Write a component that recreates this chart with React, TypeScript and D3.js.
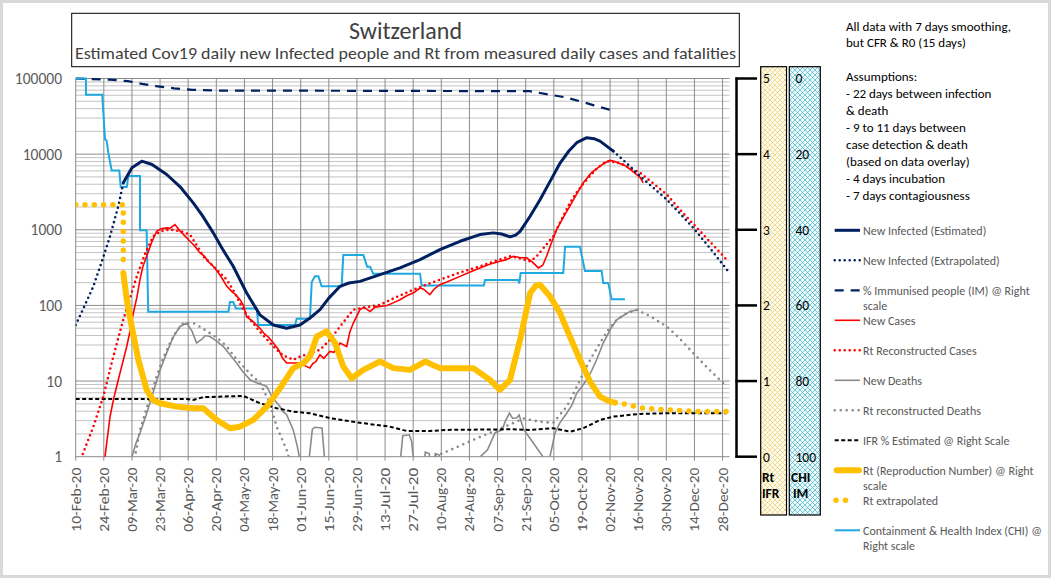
import React from 'react';
import * as d3 from 'd3';

// ---------- DATA (day offset from 10-Feb-2020, value) ----------
const START = new Date(2020, 1, 10);
const dayToDate = (d: number) => new Date(START.getTime() + d * 86400000);

const xTickDays = [0, 14, 28, 42, 56, 70, 84, 98, 112, 126, 140, 154, 168, 182, 196, 210, 224, 238, 252, 266, 280, 294, 308, 322];
const xTickLabels = ['10-Feb-20', '24-Feb-20', '09-Mar-20', '23-Mar-20', '06-Apr-20', '20-Apr-20', '04-May-20', '18-May-20', '01-Jun-20', '15-Jun-20', '29-Jun-20', '13-Jul-20', '27-Jul-20', '10-Aug-20', '24-Aug-20', '07-Sep-20', '21-Sep-20', '05-Oct-20', '19-Oct-20', '02-Nov-20', '16-Nov-20', '30-Nov-20', '14-Dec-20', '28-Dec-20'];
const leftTicks = [1, 10, 100, 1000, 10000, 100000];
const rtTicks = [0, 1, 2, 3, 4, 5];
const chiTicks = [0, 20, 40, 60, 80, 100];

const newInfectedEst: [number, number][] = [
  [23.7, 4180], [28, 6600], [32.9, 8080], [38, 7300], [45.3, 5380], [52, 3700], [58.5, 2270], [63, 1550], [68.5, 910],
  [73, 560], [78.4, 329], [85.1, 146], [91.7, 75], [98.4, 55], [105, 50], [111.6, 55], [116.6, 68], [121.6, 88],
  [126, 125], [131.6, 179], [136, 198], [141.5, 208], [151.5, 255], [161.4, 313], [171.4, 403], [181.3, 547],
  [191.3, 705], [201.2, 864], [207.9, 910], [212, 880], [216.2, 805], [219, 850], [221.2, 955], [226.2, 1510],
  [231.2, 2510], [236, 4300], [241.2, 7690], [245.5, 11000], [249.4, 14160], [254.4, 16490], [258, 16000],
  [261, 14860], [267.6, 10960],
];
const newInfectedExtrap: [number, number][] = [
  [0, 55], [4.5, 100], [8.8, 179], [13, 380], [17.1, 820], [21.2, 2050], [23.7, 4180],
  [NaN, NaN],
  [267.6, 10960], [274, 7700], [280, 5380], [287, 3700], [294.2, 2510], [301, 1620], [307.4, 1060], [316, 560], [324.8, 282],
];
const immunisedPct: [number, number][] = [
  [0, 0], [17, 0.3], [26, 0.7], [33, 1.4], [40, 2.0], [49, 2.6], [58, 3.0], [71, 3.2], [92, 3.2], [180, 3.3],
  [226, 3.35], [235, 4.2], [243, 4.9], [251, 6.0], [258, 7.1], [267, 8.45],
];
const newCases: [number, number][] = [
  [13.8, 0.6], [14.6, 1], [17.1, 3.4], [19, 6], [21.2, 10.4], [23, 16], [25.4, 28.6], [27, 45], [28.7, 79], [30.5, 130],
  [32, 219], [33.5, 330], [35.3, 446], [38, 700], [40.3, 955], [42.5, 1030], [45.3, 1060], [47, 1050], [49.4, 1170],
  [52, 960], [55.3, 781], [57, 700], [59, 620], [61.9, 494], [64, 450], [66, 380], [68.5, 329], [71, 270], [73, 225],
  [75.2, 179], [78, 150], [79.5, 140], [81.8, 119], [83.5, 100], [85.1, 71], [88, 62], [91.7, 50], [94, 42],
  [96, 38], [98.4, 31.8], [101, 26], [103, 20], [105, 17.3], [108.3, 17.3], [111.6, 17.3], [114, 16], [116.6, 14.9],
  [118, 17], [119.5, 18], [121.6, 22.2], [123.5, 20], [126.6, 24.6], [128.5, 24], [131.6, 31.8], [134.9, 28.6],
  [136.5, 45], [138.2, 58.5], [141.5, 88], [143.5, 95], [146.5, 83], [149, 95], [151.5, 97], [155, 100], [158, 108],
  [161.4, 119], [165, 135], [168, 146], [171.4, 170], [173, 165], [176.3, 139], [178.5, 165], [181.3, 188], [185, 205],
  [191.3, 242], [196, 275], [201.2, 313], [206, 350], [211.2, 383], [214, 400], [217.8, 446], [221, 430], [224.5, 425],
  [227.5, 370], [230.3, 313], [232.5, 340], [234.4, 446], [236.5, 640], [239.4, 1007], [243, 1500], [246, 2050],
  [249.5, 3000], [252.7, 4180], [256.5, 5600], [261, 6930], [264, 7800], [266, 8260], [268.5, 8000], [270.5, 7500],
  [272.6, 7310], [275, 6600], [277, 6000], [279.2, 5380], [281, 4900], [282.5, 4180],
];
const casesRecon: [number, number][] = [
  [1.5, 0.7], [3, 1], [8.8, 2.5], [13.7, 6.2], [18.7, 21], [23.7, 65], [30.4, 242], [34.5, 480], [38.6, 820],
  [42.5, 960], [46.9, 1007], [52, 960], [56.9, 864], [60, 640], [63.5, 446], [69, 320], [75.2, 219], [79, 150],
  [83.4, 88], [87.5, 62], [91.7, 45], [98.4, 28.6], [103, 22], [108.3, 19.1], [111.6, 21], [121.6, 25.9], [126.5, 35],
  [131.6, 52.7], [138.2, 88], [145, 95], [151.5, 102], [160, 130], [168, 161], [175, 190], [181.3, 219], [191, 270],
  [201.2, 329], [208, 380], [216.2, 446], [221, 420], [226.2, 383], [229.5, 446], [233.5, 600], [237.7, 820],
  [242, 1400], [246, 2270], [250, 3300], [254.4, 4620], [259.5, 6500], [264.3, 8080], [270, 7700], [275, 6800],
  [280.9, 5670], [287, 4200], [294.2, 2930], [302, 1700], [310.8, 955], [317.5, 620], [324.8, 383],
];
const newDeaths: [number, number][] = [
  [26.5, 0.7], [28, 1], [30, 1.5], [32, 2.06], [35, 3.5], [38.5, 7], [42, 14], [45.3, 23.6], [48.5, 38], [51.9, 52.7],
  [55.3, 58.5], [58, 45], [60.2, 31.8], [63, 36], [64.5, 40], [66.8, 38.8], [70, 34], [73.5, 28.6], [77, 22], [80.1, 17.3],
  [83, 13.5], [86.8, 10.4], [90, 9.5], [92.5, 9], [95.1, 8.5], [98, 6], [101.7, 4.6], [103, 4], [105, 3.6], [108.3, 2.26],
  [110.5, 1.3], [111.6, 0.9], [112.5, 0.5], [115, 0.5], [116.3, 1], [117.8, 2.3], [119, 2.45], [122.6, 2.4], [123.8, 1],
  [124.5, 0.5], [161, 0.5], [161.8, 1], [162.8, 1.9], [166, 1.95], [167.2, 1.6], [168, 1], [168.7, 0.5], [173, 0.5],
  [174, 1.15], [176, 1.1], [176.8, 0.5], [178, 0.5], [179, 1.1], [181, 1.05], [182, 0.5], [200, 0.5], [201.4, 1],
  [205, 1.23], [208.7, 2.06], [212.2, 2.26], [214, 3], [215.9, 3.76], [217.5, 3.2], [219.5, 3.26], [220.7, 3.57],
  [223.1, 2.26], [227.8, 1.52], [232.6, 1], [233.5, 0.5], [235, 0.5], [236.1, 1], [238.6, 2.06], [241, 2.8], [244.4, 3.76],
  [247, 4.8], [249.4, 6.9], [252, 8.5], [254.4, 10.4], [257, 14], [259.3, 19.1], [262.6, 31.8], [266, 47.6],
  [269.3, 64.7], [272, 72], [275.9, 83.3], [280, 87.7],
];
const deathsRecon: [number, number][] = [
  [28.5, 0.8], [29.5, 1], [32, 2.26], [36, 5], [40.3, 11.5], [43.5, 20], [46.9, 31.8], [50, 45], [53.6, 58.5], [58.5, 58.5],
  [62, 52], [66.8, 43], [71, 36], [75.2, 28.6], [79, 21], [83.4, 15.6], [87.5, 12], [91.7, 9.4], [96.7, 5.1], [100, 2.5],
  [105, 1.23], [107, 0.8],
  [NaN, NaN],
  [177, 0.9], [178.7, 1], [190, 1.35], [201.2, 1.82], [212, 2.4], [223.1, 3.2], [231.1, 2.9], [237.7, 2.8], [244.4, 4.6],
  [248, 7], [252.7, 12.7], [256.5, 20], [261, 31.8], [265, 47], [269.3, 64.7], [274, 78], [279.2, 87.7], [286, 72],
  [294.2, 52.7], [300, 38], [307.4, 23.4], [315, 14.5], [324, 8.5],
];
const ifrPct: [number, number][] = [
  [0, 0.764], [55.3, 0.764], [58.5, 0.751], [63.5, 0.787], [83.4, 0.804], [91.7, 0.707], [100, 0.641], [108.3, 0.596],
  [116.6, 0.575], [126.6, 0.509], [143.2, 0.442], [156.4, 0.397], [164.8, 0.34], [176.4, 0.34], [184.7, 0.354],
  [217.8, 0.363], [226.1, 0.354], [237.7, 0.376], [246, 0.331], [252.7, 0.376], [261, 0.486], [267.6, 0.53],
  [280.9, 0.566], [294.2, 0.575], [324, 0.575],
];
const rt: [number, number][] = [
  [23.7, 2.43], [25.4, 2.08], [27.9, 1.72], [31.2, 1.28], [35.3, 0.884], [38.5, 0.75], [42, 0.707], [50.3, 0.662],
  [58.5, 0.641], [63.5, 0.641], [70.2, 0.486], [76.8, 0.376], [81.8, 0.397], [88.4, 0.486], [95.1, 0.662],
  [101.7, 0.906], [108.3, 1.171], [113.3, 1.237], [116.6, 1.325], [120, 1.589], [124.9, 1.656], [129.1, 1.502],
  [133.2, 1.192], [137.4, 1.038], [143.2, 1.148], [151.5, 1.258], [158.1, 1.171], [166.4, 1.148], [173.9, 1.258],
  [181.3, 1.171], [197.9, 1.171], [206.2, 1.016], [211.2, 0.883], [216.2, 1.016], [221.2, 1.546], [226.2, 2.164],
  [229, 2.26], [231.1, 2.274], [236.1, 2.119], [241.1, 1.899], [246, 1.589], [251, 1.281], [256, 0.993], [261, 0.795],
  [266, 0.728], [268.5, 0.715],
];
const rtExtrap: [number, number][] = [
  [0, 3.33], [23.7, 3.33], [23.7, 2.56],
  [NaN, NaN],
  [268.5, 0.715], [272.8, 0.698], [282.5, 0.641], [294.2, 0.619], [310.8, 0.596], [324, 0.596],
];
const chi: [number, number][] = [
  [0, 0], [5.1, 0], [5.1, 4.3], [13.2, 4.3], [14.6, 16.1], [15.4, 16.4], [16.2, 19.5], [17.9, 24.3], [21.7, 24.3],
  [22.4, 28.7], [25.4, 28.7], [26.2, 25.8], [32, 25.8], [32, 40.1], [35.3, 40.1], [36.1, 61.7], [76, 61.7], [76.8, 59.1],
  [78.4, 59.1], [79.8, 60.8], [90.1, 60.8], [90.9, 65.2], [109.2, 65.2], [110, 63.5], [116.6, 63.5], [117.5, 53.8],
  [119.1, 52.3], [120.8, 52.3], [122.4, 54.9], [132.4, 54.9], [133.2, 46.7], [143.2, 46.7], [145.1, 49.8], [146.5, 49.8],
  [148.1, 51.6], [171.4, 51.6], [172.2, 54.7], [203.2, 54.7], [203.7, 53.3], [220.3, 53.3], [220.8, 54.2], [221.5, 51.4],
  [242.7, 51.4], [243.6, 44.5], [251, 44.5], [253.5, 50.9], [261.8, 50.9], [262.6, 54.1], [265.1, 54.1], [266.8, 58.4],
  [273.4, 58.4],
];

const notesLines = [
  'All data with 7 days smoothing,', 'but CFR & R0 (15 days)', '', 'Assumptions:', '- 22 days between infection',
  '& death', '- 9 to 11 days between', 'case detection & death', '(based on data overlay)', '- 4 days incubation',
  '- 7 days contagiousness',
];

type LegendKey = 'navy' | 'navyDot' | 'imDash' | 'red' | 'redDot' | 'gray' | 'grayDot' | 'ifr' | 'rt' | 'rtDot' | 'chi';
const legendItems: { key: LegendKey; lines: string[] }[] = [
  { key: 'navy', lines: ['New Infected (Estimated)'] },
  { key: 'navyDot', lines: ['New Infected (Extrapolated)'] },
  { key: 'imDash', lines: ['% Immunised people (IM) @ Right', 'scale'] },
  { key: 'red', lines: ['New Cases'] },
  { key: 'redDot', lines: ['Rt Reconstructed Cases'] },
  { key: 'gray', lines: ['New Deaths'] },
  { key: 'grayDot', lines: ['Rt reconstructed Deaths'] },
  { key: 'ifr', lines: ['IFR % Estimated  @ Right Scale'] },
  { key: 'rt', lines: ['Rt (Reproduction Number) @ Right', 'scale'] },
  { key: 'rtDot', lines: ['Rt extrapolated'] },
  { key: 'chi', lines: ['Containment & Health Index (CHI) @', 'Right scale'] },
];

// ---------- STYLES ----------
const NAVY = '#002060';
const RED = '#ff0000';
const GRAY = '#8a8a8a';
const YEL = '#ffc000';
const LBLUE = '#1fa9e1';
const FONT = "Carlito, Calibri, 'Liberation Sans', Arial, sans-serif";

const styles: Record<LegendKey, any> = {
  navy: { stroke: NAVY, strokeWidth: 3 },
  navyDot: { stroke: NAVY, strokeWidth: 2.6, strokeDasharray: '0 5', strokeLinecap: 'round' },
  imDash: { stroke: NAVY, strokeWidth: 2.2, strokeDasharray: '9 7' },
  red: { stroke: RED, strokeWidth: 1.6 },
  redDot: { stroke: RED, strokeWidth: 2.6, strokeDasharray: '0 5', strokeLinecap: 'round' },
  gray: { stroke: GRAY, strokeWidth: 1.6 },
  grayDot: { stroke: GRAY, strokeWidth: 2.6, strokeDasharray: '0 6', strokeLinecap: 'round' },
  ifr: { stroke: '#000', strokeWidth: 2, strokeDasharray: '4 2.5' },
  rt: { stroke: YEL, strokeWidth: 6, strokeLinecap: 'round', strokeLinejoin: 'round' },
  rtDot: { stroke: YEL, strokeWidth: 5.5, strokeDasharray: '0 9.3', strokeLinecap: 'round' },
  chi: { stroke: LBLUE, strokeWidth: 2 },
};

export default function App() {
  const W = 1051, H = 578;
  const X0 = 75.7, X1 = 729.6, YT = 78.5, YB = 456.7;

  const x = d3.scaleTime().domain([START, dayToDate(325.5)]).range([X0, X1]);
  const y = d3.scaleLog().domain([1, 100000]).range([YB, YT]);
  const yR = d3.scaleLinear().domain([0, 5]).range([YB, YT]);
  const yC = d3.scaleLinear().domain([0, 100]).range([YT, YB]);

  const mk = (ys: (v: number) => number) =>
    d3.line<[number, number]>()
      .defined((d) => !isNaN(d[0]) && !isNaN(d[1]))
      .x((d) => x(dayToDate(d[0])))
      .y((d) => ys(d[1]));
  const lineLog = mk((v) => y(v));
  const lineR = mk((v) => yR(v));
  const lineC = mk((v) => yC(v));

  const minorTicks: number[] = [];
  for (let e = 0; e < 5; e++) for (let k = 2; k <= 9; k++) minorTicks.push(k * Math.pow(10, e));

  const legX0 = 834.7, legX1 = 860, legTX = 863;
  const legY = (i: number) => 230.3 + i * 30;

  return (
    <svg width={W} height={H} style={{ position: 'absolute', left: 0, top: 0, background: '#fff' }} fontFamily={FONT}>
      <defs>
        <clipPath id="plotClip">
          <rect x={X0} y={YT - 4} width={X1 - X0} height={YB - YT + 4} />
        </clipPath>
        <pattern id="hatchY" width="5" height="5" patternUnits="userSpaceOnUse">
          <rect width="5" height="5" fill="#fffcee" />
          <path d="M0,0L5,5M5,0L0,5" stroke="#eac55c" strokeWidth="0.6" />
        </pattern>
        <pattern id="hatchB" width="5" height="5" patternUnits="userSpaceOnUse">
          <rect width="5" height="5" fill="#eefafc" />
          <path d="M0,0L5,5M5,0L0,5" stroke="#3fb3c8" strokeWidth="0.7" />
        </pattern>
      </defs>
      <rect x={1.5} y={1.5} width={W - 3} height={H - 3} fill="#fff" stroke="#d9d9d9" strokeWidth={3} />

      {/* Title box */}
      <rect x={71.7} y={13.3} width={667.6} height={53.4} fill="#fff" stroke="#000" strokeWidth={1} />
      <text x={405.5} y={38.5} textAnchor="middle" fontSize={24} fill="#404040">Switzerland</text>
      <text x={405.5} y={58.5} textAnchor="middle" fontSize={16} fill="#404040" textLength={661} lengthAdjust="spacingAndGlyphs">
        Estimated Cov19 daily new Infected people and Rt from measured daily cases and fatalities
      </text>

      {/* Grid */}
      {minorTicks.map((t) => (
        <line key={'m' + t} x1={X0} x2={X1} y1={y(t)} y2={y(t)} stroke="#b4b4b4" strokeWidth={0.8} />
      ))}
      {xTickDays.map((d) => (
        <line key={'v' + d} x1={x(dayToDate(d))} x2={x(dayToDate(d))} y1={YT} y2={YB + 4} stroke="#8c8c8c" strokeWidth={1} />
      ))}
      {leftTicks.map((t) => (
        <line key={'M' + t} x1={X0} x2={X1} y1={y(t)} y2={y(t)} stroke="#8c8c8c" strokeWidth={1} />
      ))}

      {/* Left labels */}
      {leftTicks.map((t) => (
        <text key={'l' + t} x={62} y={y(t)} dy="0.36em" textAnchor="end" fontSize={15.5} fill="#595959">{String(t)}</text>
      ))}
      {/* X labels */}
      {xTickDays.map((d, i) => (
        <text key={'x' + d} transform={`translate(${x(dayToDate(d))},${YB + 11}) rotate(-90)`} dy="0.36em"
          textAnchor="end" fontSize={14} fill="#595959" textLength={64} lengthAdjust="spacingAndGlyphs">{xTickLabels[i]}</text>
      ))}

      {/* Series */}
      <g clipPath="url(#plotClip)" fill="none">
        <path d={lineLog(deathsRecon) || ''} {...styles.grayDot} />
        <path d={lineLog(newDeaths) || ''} {...styles.gray} />
        <path d={lineR(ifrPct) || ''} {...styles.ifr} />
        <path d={lineC(immunisedPct) || ''} {...styles.imDash} />
        <path d={lineC(chi) || ''} {...styles.chi} />
        <path d={lineLog(casesRecon) || ''} {...styles.redDot} />
        <path d={lineLog(newCases) || ''} {...styles.red} />
        <path d={lineLog(newInfectedExtrap) || ''} {...styles.navyDot} />
        <path d={lineLog(newInfectedEst) || ''} {...styles.navy} strokeLinecap="round" strokeLinejoin="round" />
        <path d={lineR(rtExtrap) || ''} {...styles.rtDot} />
        <path d={lineR(rt) || ''} {...styles.rt} />
      </g>

      {/* Right axis */}
      <line x1={736.5} x2={736.5} y1={YT - 1} y2={YB + 1} stroke="#000" strokeWidth={2.5} />
      {rtTicks.map((t) => (
        <line key={'rt' + t} x1={735.5} x2={757} y1={yR(t)} y2={yR(t)} stroke="#000" strokeWidth={2.5} />
      ))}
      <rect x={760.7} y={66.7} width={25.8} height={448.3} fill="url(#hatchY)" stroke="#000" strokeWidth={1.2} />
      <rect x={789.3} y={66.7} width={31} height={448.3} fill="url(#hatchB)" stroke="#000" strokeWidth={1.2} />
      {rtTicks.map((t) => (
        <text key={'rl' + t} x={763} y={yR(t)} dy="0.36em" fontSize={13.5} fill="#000">{String(t)}</text>
      ))}
      {chiTicks.map((t) => (
        <text key={'cl' + t} x={795.5} y={yC(t)} dy="0.36em" fontSize={13.5} fill="#000">{String(t)}</text>
      ))}
      <text x={762} y={482} fontSize={13.5} fontWeight="bold" fill="#000">Rt</text>
      <text x={762} y={497.5} fontSize={13.5} fontWeight="bold" fill="#000">IFR</text>
      <text x={791} y={482} fontSize={13.5} fontWeight="bold" fill="#000">CHI</text>
      <text x={793} y={497.5} fontSize={13.5} fontWeight="bold" fill="#000">IM</text>

      {/* Notes */}
      {notesLines.map((s, i) => (
        <text key={'n' + i} x={846} y={30.5 + i * 16.9} fontSize={13} fill="#000">{s}</text>
      ))}

      {/* Legend */}
      {legendItems.map((it, i) => {
        const ly = legY(i);
        return (
          <g key={it.key}>
            {it.key === 'rtDot' ? (
              <line x1={836} x2={855} y1={ly} y2={ly} {...styles.rtDot} strokeDasharray="0 9.5" />
            ) : (
              <line x1={it.key === 'rt' ? legX0 + 2 : legX0} x2={it.key === 'rt' ? legX1 - 1 : legX1} y1={ly} y2={ly} {...styles[it.key]} />
            )}
            {it.lines.map((s, j) => (
              <text key={j} x={legTX} y={ly + j * 15} dy="0.36em" fontSize={12} fill="#595959">{s}</text>
            ))}
          </g>
        );
      })}
    </svg>
  );
}
